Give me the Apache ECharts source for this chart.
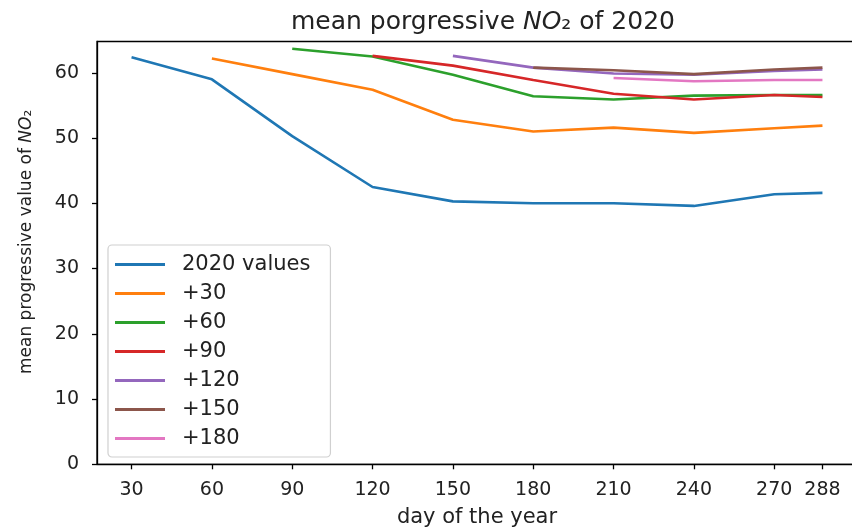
<!DOCTYPE html>
<html>
<head>
<meta charset="utf-8">
<script src="https://cdn.jsdelivr.net/npm/echarts@6/dist/echarts.min.js"></script>
<style>html,body{margin:0;padding:0;background:#fff;}#c{width:852px;height:527px;}</style>
</head>
<body>
<div id="c"></div>
<script>
const days = [30, 60, 90, 120, 150, 180, 210, 240, 270, 288];
const yTicks = [0, 10, 20, 30, 40, 50, 60];
const seriesNames = ['2020 values', '+30', '+60', '+90', '+120', '+150', '+180'];
const v2020 = [62.4, 59.0, 50.3, 42.5, 40.3, 40.0, 40.0, 39.6, 41.4, 41.6];
const p30  = [null, 62.2, 59.8, 57.4, 52.8, 51.0, 51.6, 50.8, 51.5, 51.9];
const p60  = [null, null, 63.7, 62.5, 59.7, 56.4, 55.9, 56.5, 56.6, 56.6];
const p90  = [null, null, null, 62.6, 61.1, 58.9, 56.8, 55.9, 56.6, 56.3];
const p120 = [null, null, null, null, 62.6, 60.8, 59.9, 59.7, 60.3, 60.5];
const p150 = [null, null, null, null, null, 60.8, 60.4, 59.8, 60.5, 60.8];
const p180 = [null, null, null, null, null, null, 59.2, 58.7, 58.9, 58.9];
const allValues = [v2020, p30, p60, p90, p120, p150, p180];
const colors = ['#1f77b4', '#ff7f0e', '#2ca02c', '#d62728', '#9467bd', '#8c564b', '#e377c2'];

const font = 'DejaVu Sans';
const chart = echarts.init(document.getElementById('c'), null, {renderer: 'canvas'});
const series = allValues.map((vals, i) => ({
  name: seriesNames[i],
  type: 'line',
  symbol: 'none',
  showSymbol: false,
  connectNulls: false,
  animation: false,
  lineStyle: {color: colors[i], width: 2.6},
  itemStyle: {color: colors[i]},
  data: vals.map((v, j) => v === null ? null : [days[j], v]).filter(d => d !== null)
}));

chart.setOption({
  animation: false,
  backgroundColor: '#fff',
  title: {
    text: 'mean porgressive {i|NO}₂ of 2020',
    left: 478,
    textAlign: 'center',
    top: 5,
    textStyle: {
      fontFamily: font, fontSize: 25, fontWeight: 'normal', color: '#222',
      rich: {i: {fontFamily: font, fontSize: 25, fontStyle: 'italic', color: '#222'}}
    }
  },
  grid: {
    left: 97, top: 41.5, right: -5, bottom: 62.7,
    show: true, borderColor: '#000', borderWidth: 1.3, backgroundColor: 'transparent',
    containLabel: false, outerBoundsMode: 'none'
  },
  legend: {
    orient: 'vertical',
    left: 108, top: 245,
    icon: 'rect',
    itemWidth: 50, itemHeight: 3, itemGap: 8,
    padding: [9, 20, 8, 7],
    borderColor: '#d0d0d0', borderWidth: 1.2, borderRadius: 4,
    backgroundColor: 'rgba(255,255,255,0.8)',
    textStyle: {fontFamily: font, fontSize: 21, color: '#222', padding: [0, 0, 0, 12]},
    data: seriesNames
  },
  xAxis: {
    type: 'value',
    min: 17.1, max: 300.9,
    name: 'day of the year',
    nameLocation: 'middle',
    nameGap: 43,
    nameTextStyle: {fontFamily: font, fontSize: 21, color: '#222'},
    splitLine: {show: false},
    axisLine: {show: true, onZero: false, lineStyle: {color: '#000', width: 1.3}},
    axisTick: {show: true, length: 5, customValues: days, lineStyle: {color: '#000', width: 1.3}},
    axisLabel: {customValues: days, fontFamily: font, fontSize: 19, color: '#222', margin: 16}
  },
  yAxis: {
    type: 'value',
    min: 0, max: 64.8,
    name: 'mean progressive value of {i|NO}₂',
    nameLocation: 'middle',
    nameGap: 62,
    nameTextStyle: {fontFamily: font, fontSize: 17, color: '#222', padding: [0, 0, 0, 22],
      rich: {i: {fontFamily: font, fontSize: 17, fontStyle: 'italic', color: '#222'}}},
    splitLine: {show: false},
    axisLine: {show: true, onZero: false, lineStyle: {color: '#000', width: 1.3}},
    axisTick: {show: true, length: 5, customValues: yTicks, lineStyle: {color: '#000', width: 1.3}},
    axisLabel: {customValues: yTicks, fontFamily: font, fontSize: 19, color: '#222', margin: 18}
  },
  series: series
});
</script>
</body>
</html>
